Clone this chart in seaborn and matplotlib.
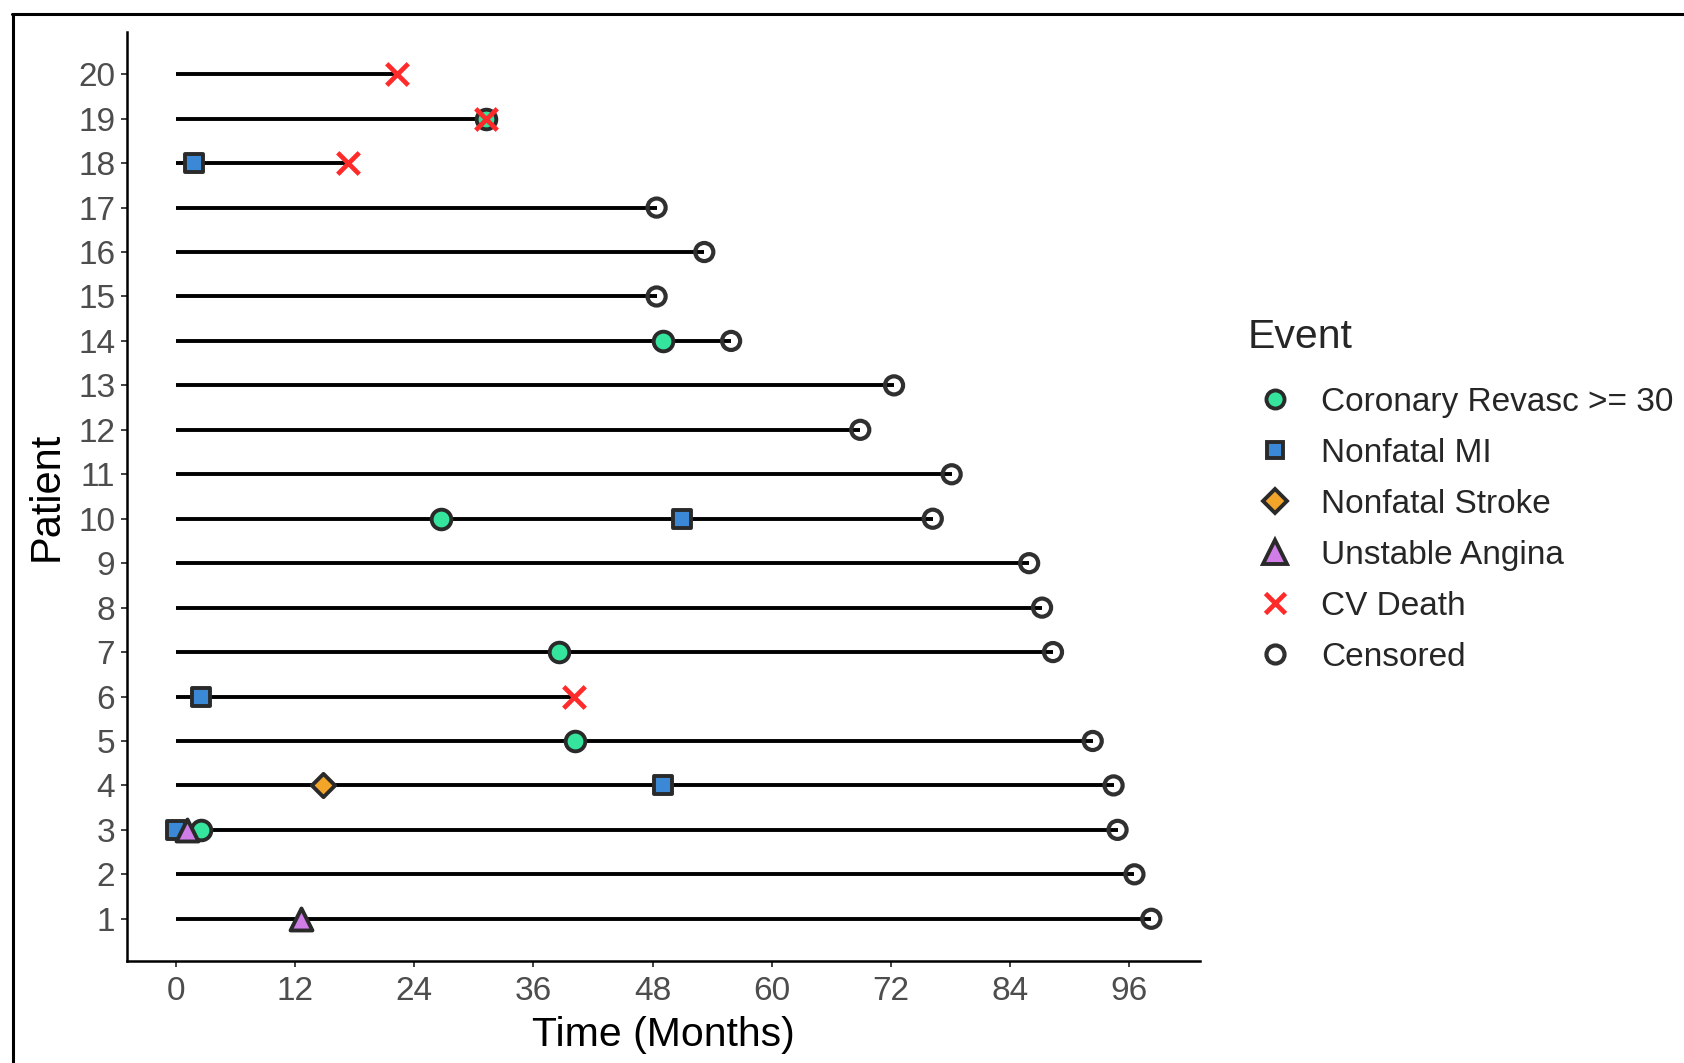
import matplotlib
matplotlib.use("Agg")
import matplotlib.pyplot as plt
from matplotlib.lines import Line2D
import seaborn as sns

# ---------------- data ----------------
patients = list(range(1, 21))
followup = [98.2, 96.5, 94.8, 94.4, 92.3, 40.1, 88.3, 87.2, 85.9, 76.2,
            78.1, 68.9, 72.3, 55.9, 48.4, 53.2, 48.4, 17.3, 31.2, 22.3]

revasc_patient = [3, 5, 7, 10, 14, 19]
revasc_time = [2.5, 40.2, 38.6, 26.7, 49.0, 31.2]

mi_patient = [3, 4, 6, 10, 18]
mi_time = [0.0, 49.0, 2.5, 51.0, 1.8]

stroke_patient = [4]
stroke_time = [14.8]

ua_patient = [1, 3]
ua_time = [12.6, 1.1]

death_patient = [6, 18, 19, 20]
death_time = [40.1, 17.3, 31.2, 22.3]

censor_patient = [1, 2, 3, 4, 5, 7, 8, 9, 10, 11, 12, 13, 14, 15, 16, 17]
censor_time = [98.2, 96.5, 94.8, 94.4, 92.3, 88.3, 87.2, 85.9, 76.2, 78.1,
               68.9, 72.3, 55.9, 48.4, 53.2, 48.4]

event_labels = ["Coronary Revasc >= 30", "Nonfatal MI", "Nonfatal Stroke",
                "Unstable Angina", "CV Death", "Censored"]
x_ticks = [0, 12, 24, 36, 48, 60, 72, 84, 96]

# ---------------- style ----------------
sns.set_theme(style="ticks")
plt.rcParams["font.family"] = ["Liberation Sans", "DejaVu Sans"]

col_green = "#35E59E"
col_blue = "#3A88D6"
col_orange = "#F3A52A"
col_violet = "#D17DE8"
col_red = "#FF2A2A"
edge = "#2A2A2A"

W, H = 1684, 1063
fig = plt.figure(figsize=(W / 100, H / 100), dpi=100)
ax = fig.add_axes([127 / W, 1 - 961 / H, (1200 - 127) / W, (961 - 32) / H])

# follow-up lines
ax.hlines(patients, 0, followup, color="black", linewidth=2.8, zorder=1)

# events
sns.scatterplot(x=censor_time, y=censor_patient, marker="o", s=170,
                color="white", edgecolor="#303030", linewidth=3.0, ax=ax,
                zorder=3, legend=False)
ax.collections[-1].set_facecolor("none")

sns.scatterplot(x=revasc_time, y=revasc_patient, marker="o", s=200,
                color=col_green, edgecolor=edge, linewidth=2.8, ax=ax, zorder=4,
                legend=False)
sns.scatterplot(x=mi_time, y=mi_patient, marker="s", s=165,
                color=col_blue, edgecolor=edge, linewidth=2.8, ax=ax, zorder=4,
                legend=False)
sns.scatterplot(x=stroke_time, y=stroke_patient, marker="D", s=140,
                color=col_orange, edgecolor=edge, linewidth=2.8, ax=ax, zorder=4,
                legend=False)
sns.scatterplot(x=ua_time, y=ua_patient, marker="^", s=250,
                color=col_violet, edgecolor=edge, linewidth=2.8, ax=ax, zorder=5,
                legend=False)
sns.scatterplot(x=death_time, y=death_patient, marker="x", s=240,
                color=col_red, linewidth=3.4, ax=ax, zorder=6, legend=False)

# axes
ax.set_xlim(-4.91, 103.1)
ax.set_ylim(0.05, 20.95)
ax.set_xticks(x_ticks)
ax.set_yticks(patients)
ax.tick_params(axis="both", labelsize=24, labelcolor="#4D4D4D",
               length=4.5, width=1.3, color="#333333")
ax.tick_params(axis="x", pad=6)
ax.tick_params(axis="y", pad=4)
ax.set_xlabel("Time (Months)", fontsize=29.5, color="black", labelpad=7)
ax.set_ylabel("Patient", fontsize=30, color="black", labelpad=8)
sns.despine(ax=ax)
for s in ["left", "bottom"]:
    ax.spines[s].set_linewidth(1.8)
    ax.spines[s].set_color("black")

# legend
handles = [
    Line2D([], [], linestyle="none", marker="o", markersize=13, markerfacecolor=col_green,
           markeredgecolor=edge, markeredgewidth=2.8),
    Line2D([], [], linestyle="none", marker="s", markersize=12, markerfacecolor=col_blue,
           markeredgecolor=edge, markeredgewidth=2.8),
    Line2D([], [], linestyle="none", marker="D", markersize=12, markerfacecolor=col_orange,
           markeredgecolor=edge, markeredgewidth=2.8),
    Line2D([], [], linestyle="none", marker="^", markersize=17, markerfacecolor=col_violet,
           markeredgecolor=edge, markeredgewidth=2.8),
    Line2D([], [], linestyle="none", marker="x", markersize=14, color=col_red,
           markeredgewidth=3.4),
    Line2D([], [], linestyle="none", marker="o", markersize=13, markerfacecolor="none",
           markeredgecolor="#303030", markeredgewidth=3.0),
]
leg = fig.legend(handles, event_labels, loc="upper left",
                 bbox_to_anchor=(1248 / W, 1 - 318 / H), frameon=False,
                 fontsize=24, title="Event", title_fontsize=29.5,
                 handletextpad=0.6, labelspacing=0.6, borderpad=0,
                 handlelength=1.6, borderaxespad=0)
leg._legend_box.align = "left"
leg._legend_box.sep = 22

# outer frame (top and left border)
fig.add_artist(Line2D([12 / W, 1], [1 - 14 / H, 1 - 14 / H], color="black",
                      linewidth=2.2, transform=fig.transFigure))
fig.add_artist(Line2D([13 / W, 13 / W], [0, 1 - 14 / H], color="black",
                      linewidth=2.2, transform=fig.transFigure))

fig.savefig("out.png", dpi=100)
